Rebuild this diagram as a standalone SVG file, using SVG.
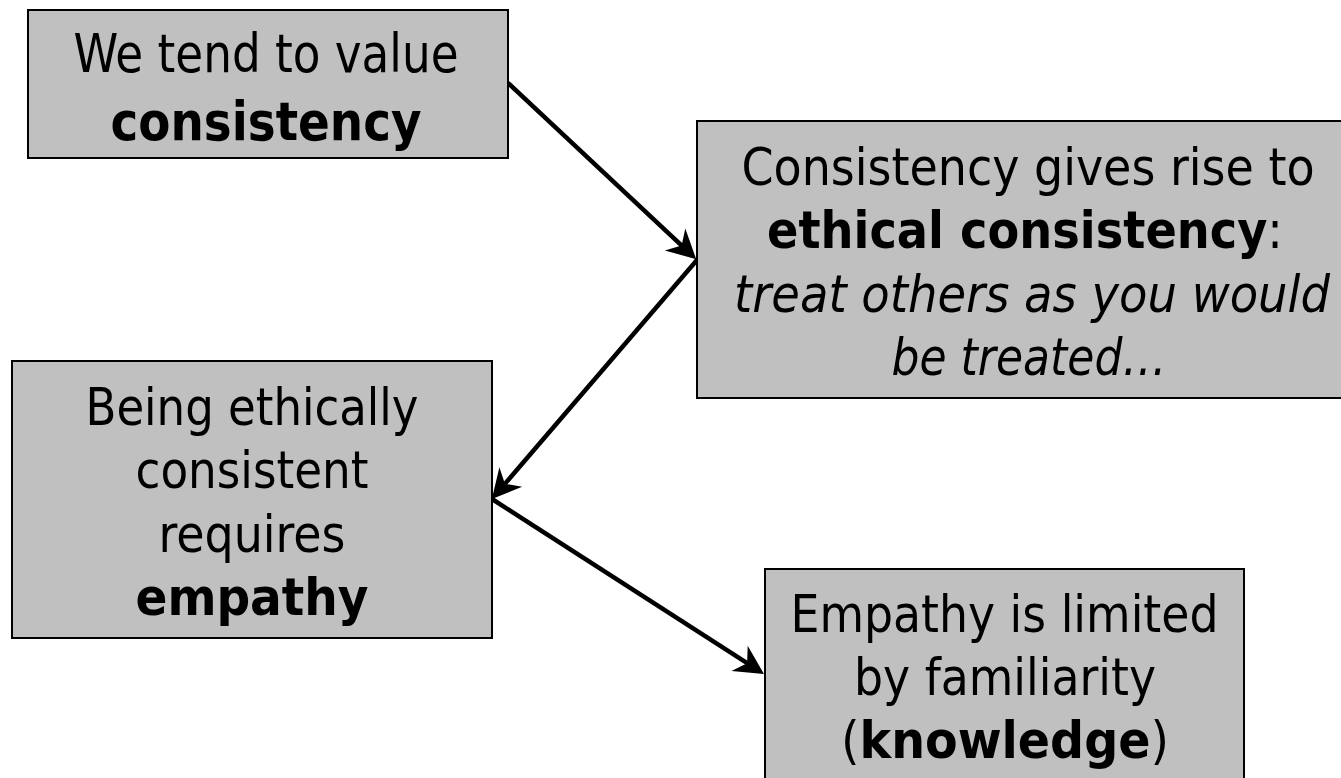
<svg xmlns="http://www.w3.org/2000/svg" width="1341" height="778" viewBox="0 0 1341 778">
<style>
.box{fill:#c0c0c0;stroke:#000;stroke-width:2}
.t{font-family:"DejaVu Sans Condensed","DejaVu Sans",Tahoma,sans-serif;font-size:51px;fill:#000;text-anchor:middle}
.b{font-weight:bold}
.i{font-style:italic}
.conn{stroke:#000;stroke-width:4.5;fill:none;marker-end:url(#ah)}
</style>
<defs>
<marker id="ah" markerUnits="userSpaceOnUse" markerWidth="32" markerHeight="32" refX="16" refY="16" orient="auto" style="overflow:visible">
<path d="M30,16 L1,1 L10,16 L1,31 Z" fill="#000"/>
</marker>
</defs>
<rect width="1341" height="778" fill="#fff"/>
<g id="connectors">
<line class="conn" x1="508" y1="83" x2="686" y2="249.7"/>
<line class="conn" x1="697" y1="260" x2="501" y2="488.4"/>
<line class="conn" x1="492" y1="499" x2="752.2" y2="666.4"/>
</g>
<g id="n1">
<rect class="box" x="28" y="10" width="480" height="148"/>
<text class="t" x="266" y="72" style="font-size:53px" textLength="385" lengthAdjust="spacingAndGlyphs">We tend to value</text>
<text class="t b" x="266" y="140" style="font-size:53px" textLength="311" lengthAdjust="spacingAndGlyphs">consistency</text>
</g>
<g id="n2">
<rect class="box" x="697" y="121" width="662" height="277"/>
<text class="t" x="1028" y="185" textLength="573" lengthAdjust="spacingAndGlyphs">Consistency gives rise to</text>
<text class="t" x="1025" y="248" textLength="516" lengthAdjust="spacingAndGlyphs"><tspan class="b">ethical consistency</tspan>:</text>
<text class="t i" x="1032" y="312" textLength="596" lengthAdjust="spacingAndGlyphs">treat others as you would</text>
<text class="t i" x="1029" y="375" textLength="275" lengthAdjust="spacingAndGlyphs">be treated…</text>
</g>
<g id="n3">
<rect class="box" x="12" y="361" width="480" height="277"/>
<text class="t" x="252" y="425" textLength="333" lengthAdjust="spacingAndGlyphs">Being ethically</text>
<text class="t" x="252" y="488" textLength="233" lengthAdjust="spacingAndGlyphs">consistent</text>
<text class="t" x="252" y="552" textLength="187" lengthAdjust="spacingAndGlyphs">requires</text>
<text class="t b" x="252" y="615" textLength="233" lengthAdjust="spacingAndGlyphs">empathy</text>
</g>
<g id="n4">
<rect class="box" x="765" y="569" width="479" height="230"/>
<text class="t" x="1004.5" y="632" textLength="428" lengthAdjust="spacingAndGlyphs">Empathy is limited</text>
<text class="t" x="1005" y="695" textLength="302" lengthAdjust="spacingAndGlyphs">by familiarity</text>
<text class="t" x="1005" y="758" textLength="328" lengthAdjust="spacingAndGlyphs">(<tspan class="b">knowledge</tspan>)</text>
</g>
</svg>
